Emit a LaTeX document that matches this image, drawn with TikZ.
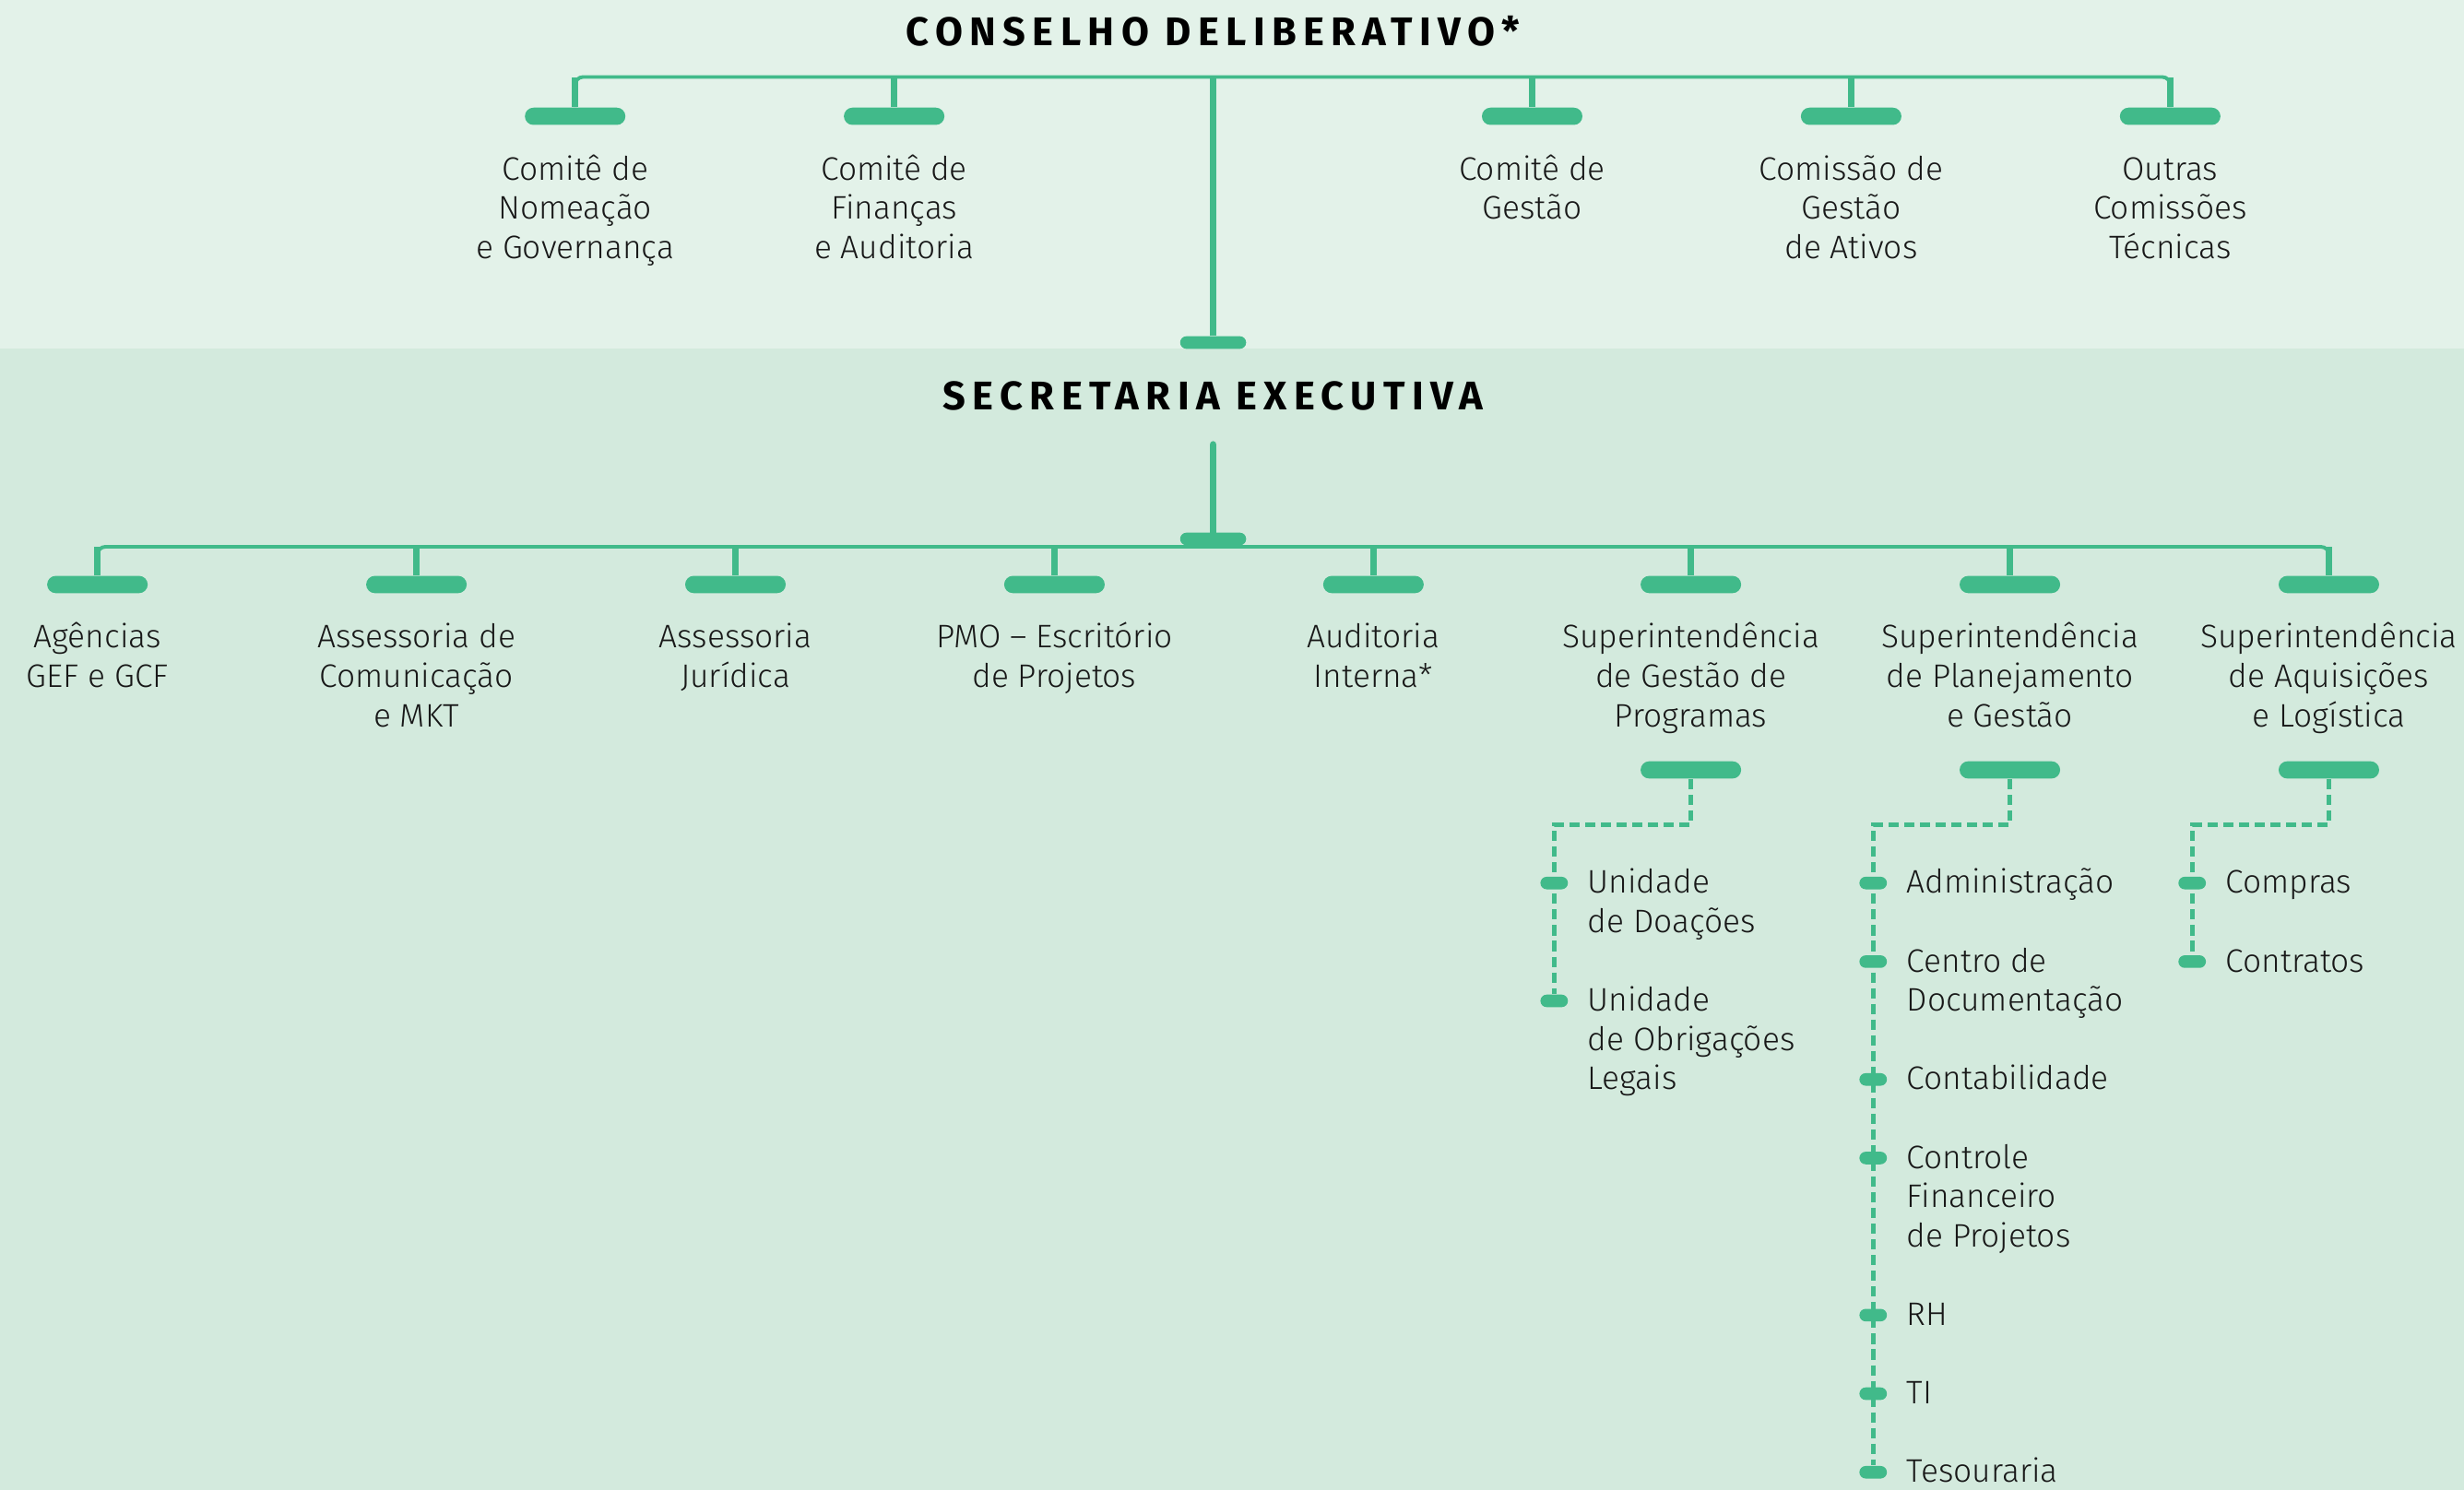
\documentclass[tikz,border=0pt]{standalone}
\usepackage{fontspec}
\setmainfont{Fira Sans}[UprightFont=* Light,BoldFont=* Bold]
\newfontfamily\headfont{Fira Sans}[LetterSpace=17]
\usetikzlibrary{positioning}
\definecolor{cvgreen}{RGB}{65,186,138}
\definecolor{cvtop}{RGB}{227,242,233}
\definecolor{cvbot}{RGB}{211,234,221}
\definecolor{cvtext}{RGB}{24,24,24}

\begin{document}
\begin{tikzpicture}[x=0.02cm,y=-0.02cm,
  head/.style={font=\headfont\bfseries\fontsize{14.5}{17}\selectfont,text=black,inner sep=0},
  lbl/.style={align=center,anchor=north,inner sep=0,
              font=\fontsize{11.8}{14.2}\selectfont,text=cvtext},
  item/.style={align=left,anchor=north west,inner sep=0,
               font=\fontsize{11.8}{14.2}\selectfont,text=cvtext},
  pill/.style={fill=cvgreen,rounded corners=0.11cm,minimum width=1.28cm,
               minimum height=0.22cm,inner sep=0},
  hub/.style={fill=cvgreen,rounded corners=0.08cm,minimum width=0.84cm,
              minimum height=0.16cm,inner sep=0},
  dot/.style={fill=cvgreen,rounded corners=0.08cm,minimum width=0.35cm,
              minimum height=0.16cm,inner sep=0},
  bus/.style={cvgreen,line width=1.3pt,rounded corners=0.1cm},
  stem/.style={cvgreen,line width=2.3pt},
  trunk/.style={cvgreen,line width=2.6pt},
  sub/.style={cvgreen,line width=1.6pt,dash pattern=on 0.13cm off 0.07cm}
]
\fill[cvtop] (0,0) rectangle (1568,222);
\fill[cvbot] (0,222) rectangle (1568,948);
\useasboundingbox (0,0) rectangle (1568,948);

\node[head] (cd) at (772,20) {CONSELHO DELIBERATIVO*};
\coordinate (cdbus) at (772,49);
\node[pill] (c1) at (366,74) {};
\node[pill] (c2) at (569,74) {};
\node[pill] (c3) at (975,74) {};
\node[pill] (c4) at (1178,74) {};
\node[pill] (c5) at (1381,74) {};
\node[hub] (cdend) at (772,218) {};
\node[lbl] (c1l) at (366,96.7) {\strut Comitê de\\Nomeação\\e Governança};
\node[lbl] (c2l) at (569,96.7) {\strut Comitê de\\Finanças\\e Auditoria};
\node[lbl] (c3l) at (975,96.7) {\strut Comitê de\\Gestão};
\node[lbl] (c4l) at (1178,96.7) {\strut Comissão de\\Gestão\\de Ativos};
\node[lbl] (c5l) at (1381,96.7) {\strut Outras\\Comissões\\Técnicas};
\draw[bus] (c1) |- (cdbus) -| (c5);
\draw[stem] (c1) -- (c1 |- cdbus);
\draw[stem] (c2) -- (c2 |- cdbus);
\draw[stem] (c3) -- (c3 |- cdbus);
\draw[stem] (c4) -- (c4 |- cdbus);
\draw[stem] (c5) -- (c5 |- cdbus);
\draw[trunk] (cdbus) -- (cdend);

\node[head] (se) at (772,252) {SECRETARIA EXECUTIVA};
\coordinate (setop) at (772,283);
\coordinate (sebus) at (772,348);
\node[hub] (sehub) at (772,343) {};
\draw[trunk,line cap=round] (setop) -- (sehub);
\node[pill] (s1) at (62,372) {};
\node[pill] (s2) at (265,372) {};
\node[pill] (s3) at (468,372) {};
\node[pill] (s4) at (671,372) {};
\node[pill] (s5) at (874,372) {};
\node[pill] (s6) at (1076,372) {};
\node[pill] (s7) at (1279,372) {};
\node[pill] (s8) at (1482,372) {};
\node[lbl] (s1l) at (62,394.7) {\strut Agências\\GEF e GCF};
\node[lbl] (s2l) at (265,394.7) {\strut Assessoria de\\Comunicação\\e MKT};
\node[lbl] (s3l) at (468,394.7) {\strut Assessoria\\Jurídica};
\node[lbl] (s4l) at (671,394.7) {\strut PMO – Escritório\\de Projetos};
\node[lbl] (s5l) at (874,394.7) {\strut Auditoria\\Interna*};
\node[lbl] (s6l) at (1076,394.7) {\strut Superintendência\\de Gestão de\\Programas};
\node[lbl] (s7l) at (1279,394.7) {\strut Superintendência\\de Planejamento\\e Gestão};
\node[lbl] (s8l) at (1482,394.7) {\strut Superintendência\\de Aquisições\\e Logística};
\draw[bus] (s1) |- (sebus) -| (s8);
\draw[stem] (s1) -- (s1 |- sebus);
\draw[stem] (s2) -- (s2 |- sebus);
\draw[stem] (s3) -- (s3 |- sebus);
\draw[stem] (s4) -- (s4 |- sebus);
\draw[stem] (s5) -- (s5 |- sebus);
\draw[stem] (s6) -- (s6 |- sebus);
\draw[stem] (s7) -- (s7 |- sebus);
\draw[stem] (s8) -- (s8 |- sebus);

\node[pill] (g6) at (1076,490) {};
\node[pill] (g7) at (1279,490) {};
\node[pill] (g8) at (1482,490) {};
\coordinate (k6) at (989,525);
\coordinate (k7) at (1192,525);
\coordinate (k8) at (1395,525);

\node[dot] (u1) at (989,562) {};
\node[dot] (u2) at (989,637) {};
\node[item] (u1l) at (1010,550.7) {\strut Unidade\\de Doações};
\node[item] (u2l) at (1010,625.7) {\strut Unidade\\de Obrigações\\Legais};

\node[dot] (p1) at (1192,562) {};
\node[dot] (p2) at (1192,612) {};
\node[dot] (p3) at (1192,687) {};
\node[dot] (p4) at (1192,737) {};
\node[dot] (p5) at (1192,837) {};
\node[dot] (p6) at (1192,887) {};
\node[dot] (p7) at (1192,937) {};
\node[item] (p1l) at (1213,550.7) {\strut Administração};
\node[item] (p2l) at (1213,600.7) {\strut Centro de\\Documentação};
\node[item] (p3l) at (1213,675.7) {\strut Contabilidade};
\node[item] (p4l) at (1213,725.7) {\strut Controle\\Financeiro\\de Projetos};
\node[item] (p5l) at (1213,825.7) {\strut RH};
\node[item] (p6l) at (1213,875.7) {\strut TI};
\node[item] (p7l) at (1213,925.7) {\strut Tesouraria};

\node[dot] (q1) at (1395,562) {};
\node[dot] (q2) at (1395,612) {};
\node[item] (q1l) at (1416,550.7) {\strut Compras};
\node[item] (q2l) at (1416,600.7) {\strut Contratos};

\draw[sub] (g6) |- (k6) -- (u2);
\draw[sub] (g7) |- (k7) -- (p7);
\draw[sub] (g8) |- (k8) -- (q2);
\end{tikzpicture}
\end{document}
